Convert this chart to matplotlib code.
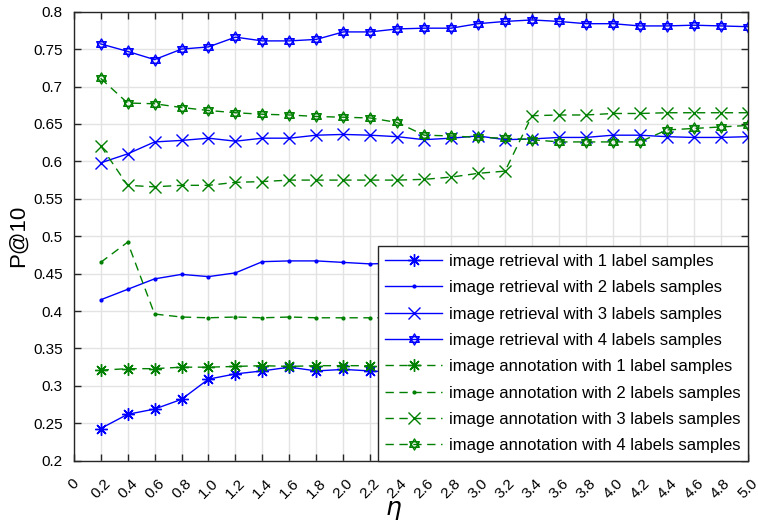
import numpy as np
import matplotlib
matplotlib.use("Agg")
import matplotlib.pyplot as plt
from matplotlib.path import Path

plt.rcParams['font.family'] = ['Liberation Sans', 'DejaVu Sans']

# eta values (0.2 .. 5.0)
eta = [0.2, 0.4, 0.6, 0.8, 1.0, 1.2, 1.4, 1.6, 1.8, 2.0, 2.2, 2.4, 2.6,
       2.8, 3.0, 3.2, 3.4, 3.6, 3.8, 4.0, 4.2, 4.4, 4.6, 4.8, 5.0]
xtick_vals = [0.0] + eta
xtick_labels = ['0'] + ['%.1f' % v for v in eta]
ytick_vals = [0.2, 0.25, 0.3, 0.35, 0.4, 0.45, 0.5, 0.55, 0.6, 0.65, 0.7, 0.75, 0.8]
ytick_labels = ['0.2', '0.25', '0.3', '0.35', '0.4', '0.45', '0.5', '0.55',
                '0.6', '0.65', '0.7', '0.75', '0.8']

# retrieval
ret_1 = [0.243, 0.262, 0.269, 0.282, 0.309, 0.316, 0.320, 0.325, 0.320, 0.322, 0.320,
         0.318, 0.317, 0.313, 0.312, 0.309, 0.308, 0.305, 0.304, 0.301, 0.300, 0.298,
         0.297, 0.295, 0.294]
ret_2 = [0.415, 0.429, 0.443, 0.449, 0.446, 0.451, 0.466, 0.467, 0.467, 0.465, 0.463,
         0.464, 0.463, 0.465, 0.466, 0.465, 0.467, 0.468, 0.467, 0.469, 0.470, 0.469,
         0.471, 0.472, 0.473]
ret_3 = [0.598, 0.610, 0.626, 0.628, 0.631, 0.627, 0.631, 0.631, 0.635, 0.636, 0.635,
         0.633, 0.629, 0.631, 0.634, 0.629, 0.630, 0.632, 0.632, 0.635, 0.635, 0.633,
         0.632, 0.632, 0.633]
ret_4 = [0.757, 0.747, 0.736, 0.750, 0.753, 0.766, 0.761, 0.761, 0.763, 0.773, 0.773,
         0.777, 0.778, 0.778, 0.784, 0.787, 0.789, 0.787, 0.784, 0.784, 0.781, 0.781,
         0.782, 0.781, 0.780]

# annotation
ann_1 = [0.321, 0.323, 0.323, 0.325, 0.325, 0.326, 0.327, 0.326, 0.327, 0.327, 0.327,
         0.328, 0.327, 0.327, 0.328, 0.327, 0.328, 0.327, 0.328, 0.327, 0.328, 0.327,
         0.328, 0.327, 0.327]
ann_2 = [0.465, 0.492, 0.396, 0.392, 0.391, 0.392, 0.391, 0.392, 0.391, 0.391, 0.391,
         0.391, 0.390, 0.391, 0.390, 0.390, 0.389, 0.390, 0.389, 0.389, 0.389, 0.388,
         0.389, 0.388, 0.388]
ann_3 = [0.621, 0.568, 0.566, 0.568, 0.568, 0.572, 0.573, 0.575, 0.575, 0.575, 0.575,
         0.575, 0.576, 0.579, 0.584, 0.587, 0.661, 0.662, 0.662, 0.664, 0.664, 0.665,
         0.665, 0.665, 0.665]
ann_4 = [0.711, 0.678, 0.677, 0.672, 0.668, 0.665, 0.663, 0.662, 0.660, 0.659, 0.658,
         0.652, 0.635, 0.634, 0.632, 0.631, 0.629, 0.626, 0.626, 0.626, 0.626, 0.642,
         0.644, 0.646, 0.648]

labels = ['image retrieval with 1 label samples',
          'image retrieval with 2 labels samples',
          'image retrieval with 3 labels samples',
          'image retrieval with 4 labels samples',
          'image annotation with 1 label samples',
          'image annotation with 2 labels samples',
          'image annotation with 3 labels samples',
          'image annotation with 4 labels samples']

# six pointed star (two triangles), like matlab 'h'
ang_up = np.deg2rad([90, 210, 330, 90])
ang_dn = np.deg2rad([270, 30, 150, 270])
verts = list(zip(np.cos(ang_up), np.sin(ang_up))) + list(zip(np.cos(ang_dn), np.sin(ang_dn)))
codes = [Path.MOVETO, Path.LINETO, Path.LINETO, Path.CLOSEPOLY] * 2
hexagram = Path(verts, codes)
asterisk = (8, 2, 0)

fig = plt.figure(figsize=(7.58, 5.23), dpi=100)
ax = fig.add_axes([0.0972, 0.1191, 0.8892, 0.8585])

blue = '#0000ff'
green = '#008000'
lw = 1.0
dash = (6, 4)

ax.plot(eta, ret_1, color=blue, lw=lw, marker=asterisk, ms=9, mew=1, label=labels[0])
ax.plot(eta, ret_2, color=blue, lw=lw, marker='.', ms=4, label=labels[1])
ax.plot(eta, ret_3, color=blue, lw=lw, marker='x', ms=8, mew=1, label=labels[2])
ax.plot(eta, ret_4, color=blue, lw=lw, marker=hexagram, ms=8, mew=1, mfc='none', label=labels[3])

ax.plot(eta, ann_1, color=green, lw=lw, dashes=dash, marker=asterisk, ms=9, mew=1, label=labels[4])
ax.plot(eta, ann_2, color=green, lw=lw, dashes=dash, marker='.', ms=4, label=labels[5])
ax.plot(eta, ann_3, color=green, lw=lw, dashes=dash, marker='x', ms=8, mew=1, label=labels[6])
ax.plot(eta, ann_4, color=green, lw=lw, dashes=dash, marker=hexagram, ms=8, mew=1, mfc='none', label=labels[7])

ax.set_xlim(0, 5.0)
ax.set_ylim(0.2, 0.8)
ax.set_xticks(xtick_vals)
ax.set_xticklabels(xtick_labels, rotation=45, ha='center', va='top')
ax.set_yticks(ytick_vals)
ax.set_yticklabels(ytick_labels)

ax.grid(True, color='#e3e3e3', lw=1)
ax.set_axisbelow(True)
ax.tick_params(direction='in', top=True, right=True, length=5, width=1,
               labelsize=11, colors='#262626', labelcolor='black')
ax.tick_params(axis='x', pad=11)
ax.tick_params(axis='y', pad=8)
for sp in ax.spines.values():
    sp.set_color('#262626')
    sp.set_linewidth(1)

ax.set_ylabel('P@10', fontsize=16, labelpad=3)
ax.set_xlabel(r'$\eta$', fontsize=18)
ax.xaxis.set_label_coords(0.474, -0.083)

leg = ax.legend(loc='lower right', fontsize=12, handlelength=3.4, borderaxespad=0,
                labelspacing=0.68, fancybox=False, framealpha=1, edgecolor='#262626',
                borderpad=0.45, handletextpad=0.4)
leg.get_frame().set_linewidth(1)

fig.savefig('out.png', dpi=100)
